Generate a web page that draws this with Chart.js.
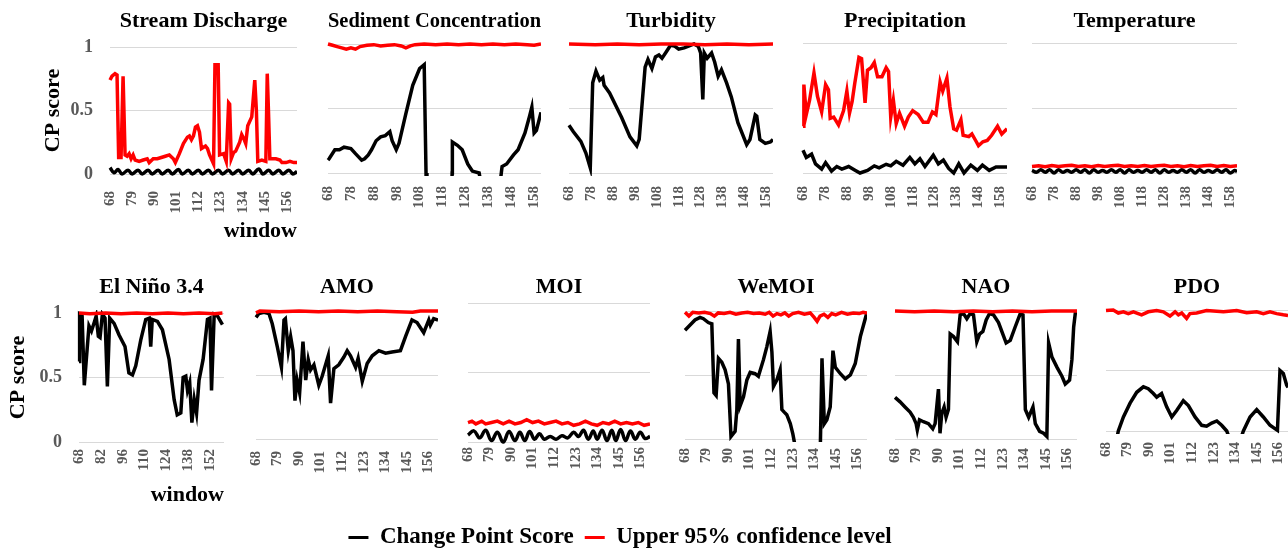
<!DOCTYPE html>
<html><head><meta charset="utf-8">
<script src="https://cdn.jsdelivr.net/npm/chart.js@4.4.1/dist/chart.umd.min.js"></script>
<style>
html,body{margin:0;padding:0;background:#fff;width:1288px;height:549px;overflow:hidden;position:relative}
canvas{position:absolute}
</style></head><body>
<script>
// ---------- tick labels (window numbers) ----------
const ticks10 = [68,78,88,98,108,118,128,138,148,158];
const ticks11 = [68,79,90,101,112,123,134,145,156];
const ticks14 = [68,82,96,110,124,138,152];
const seriesNames = ['Change Point Score', 'Upper 95% confidence level'];
const panelTitles = ['Stream Discharge','Sediment Concentration','Turbidity','Precipitation','Temperature',
                     'El Niño 3.4','AMO','MOI','WeMOI','NAO','PDO'];

// ---------- data: [window, CP score] ----------
const sdScore = [[68,0.05],[70,0.01],[72,0.035],[74,0.0],[77,0.03],[79,0.0],[82,0.03],[84,0.0],[87,0.03],[89,0.0],[92,0.03],[94,0.0],[97,0.03],[99,0.0],[102,0.035],[104,0.0],[107,0.03],[109,0.0],[112,0.03],[114,0.0],[117,0.03],[119,0.0],[122,0.03],[124,0.0],[127,0.03],[129,0.0],[132,0.03],[134,0.0],[137,0.03],[139,0.0],[142,0.04],[144,0.0],[147,0.03],[149,0.0],[152,0.03],[154,0.0],[157,0.03],[159,0.0],[161,0.02]];
const sdUpper = [[68,0.74],[69,0.77],[70.5,0.79],[71.5,0.78],[72.3,0.13],[73.5,0.13],[74.5,0.77],[75.5,0.15],[76.5,0.14],[77.5,0.16],[78.5,0.12],[79.5,0.15],[80.5,0.11],[82.5,0.1],[84.5,0.11],[86.5,0.12],[87.5,0.09],[89.5,0.12],[91.5,0.12],[93.5,0.13],[95.5,0.14],[97.5,0.15],[99.5,0.12],[100.5,0.09],[102.5,0.16],[104.5,0.24],[106.5,0.29],[107.5,0.3],[108.5,0.27],[109.5,0.3],[110.5,0.37],[111.5,0.38],[112.5,0.33],[113.5,0.2],[115.5,0.22],[116.5,0.2],[117.5,0.15],[119.5,0.08],[120.2,0.86],[121.8,0.86],[122.5,0.15],[124.5,0.16],[125.8,0.1],[127,0.56],[127.5,0.55],[128.3,0.12],[129.5,0.17],[130.5,0.18],[132.5,0.25],[133.5,0.31],[134.5,0.28],[135.5,0.24],[136.5,0.38],[138.5,0.45],[140,0.74],[140.8,0.5],[141.5,0.1],[143.5,0.11],[145.5,0.1],[146.2,0.79],[146.8,0.5],[147.5,0.12],[150.5,0.12],[152.5,0.11],[153.5,0.09],[155.5,0.09],[157.5,0.1],[159.5,0.09],[161,0.09]];

const secScore = [[68,0.1],[68.5,0.11],[71,0.18],[73,0.18],[75,0.2],[78,0.19],[80,0.15],[82.7,0.1],[84,0.11],[85.6,0.14],[87,0.18],[89,0.25],[91,0.28],[93,0.29],[95,0.32],[96,0.25],[97.8,0.18],[99,0.23],[102,0.46],[105,0.68],[108,0.81],[110,0.84],[110.8,0.0],[111.2,-0.3],[121.8,-0.3],[122.2,0.0],[122.3,0.24],[124.5,0.215],[126.6,0.18],[129,0.07],[131,0.015],[134,0.0],[135,-0.1],[143,-0.1],[144,0.05],[146,0.07],[149,0.14],[151,0.18],[154,0.31],[156,0.44],[157,0.51],[158,0.31],[159,0.33],[161,0.47]];
const secUpper = [[68,1.0],[70,0.99],[72,0.98],[74,0.97],[76,0.96],[78,0.97],[80,0.96],[82,0.98],[85,0.99],[88,0.995],[91,0.985],[94,0.99],[97,0.995],[100,0.985],[102,0.97],[104,0.985],[106,0.995],[110,1.0],[115,0.995],[120,1.0],[125,0.995],[130,1.0],[135,0.995],[140,1.0],[145,0.995],[150,1.0],[155,0.995],[158,0.99],[161,1.0]];

const turbScore = [[68,0.37],[70,0.32],[73.4,0.245],[75.7,0.155],[77.7,0.04],[78.8,0.7],[80.3,0.79],[82,0.72],[83.4,0.74],[84,0.68],[86.5,0.62],[92,0.43],[95.8,0.28],[98.9,0.21],[100,0.26],[102.7,0.82],[104,0.88],[105.8,0.81],[107.4,0.9],[109,0.915],[110.4,0.89],[112,0.93],[114.3,0.99],[116,0.985],[118,0.96],[120.5,0.97],[122.8,0.985],[125,1.0],[127,0.98],[128,0.93],[129,0.57],[129.7,0.93],[131,0.89],[133,0.93],[134.4,0.86],[136,0.75],[137.5,0.8],[139.8,0.7],[142,0.59],[145,0.39],[149,0.22],[150.5,0.26],[152.9,0.45],[153.6,0.44],[155,0.26],[157.5,0.23],[159.8,0.24],[161,0.26]];
const turbUpper = [[68,1.0],[80,0.995],[90,1.0],[100,0.995],[110,1.0],[120,1.0],[130,0.995],[140,1.0],[150,0.995],[161,1.0]];

const precScore = [[68,0.175],[69.5,0.12],[71.9,0.145],[73.7,0.07],[76.5,0.03],[78.3,0.08],[81,0.015],[83.4,0.05],[85.7,0.03],[88.8,0.05],[91.9,0.02],[94,0.0],[97.4,0.02],[100.5,0.055],[102.7,0.04],[105.9,0.067],[108,0.055],[110.5,0.09],[113.6,0.06],[116.7,0.12],[119,0.07],[121.3,0.11],[123.6,0.05],[127.4,0.137],[129.7,0.07],[132,0.1],[134.4,0.035],[136.7,0.0],[139,0.07],[141.4,0.0],[144.5,0.06],[147.5,0.02],[149.8,0.06],[152.9,0.02],[156,0.046],[161,0.046]];
const precUpper = [[68,0.36],[68.4,0.68],[69.5,0.45],[71,0.56],[73,0.77],[74.6,0.59],[76.5,0.47],[78.3,0.68],[79.6,0.64],[80.4,0.42],[82,0.43],[84.2,0.37],[86.5,0.48],[88,0.63],[89.2,0.46],[90.4,0.55],[91.6,0.69],[93.5,0.89],[94.7,0.88],[96.3,0.54],[97.4,0.79],[99,0.81],[100.5,0.85],[102,0.74],[104,0.74],[105.9,0.81],[107,0.78],[108,0.43],[109.2,0.56],[110.5,0.38],[112,0.46],[114.3,0.36],[116,0.43],[118,0.48],[120.5,0.45],[122.8,0.39],[125,0.39],[127,0.47],[128.6,0.45],[130.5,0.7],[131.7,0.63],[133.6,0.73],[135,0.51],[136.7,0.34],[138,0.33],[140,0.41],[141,0.29],[143.6,0.28],[145,0.3],[146.7,0.25],[148,0.21],[150,0.24],[152,0.25],[154,0.29],[156.7,0.36],[158.6,0.3],[161,0.34]];

const tempScore = [[68,0.02],[70,0.005],[72,0.025],[74,0.005],[76,0.025],[78,0.0],[80,0.025],[82,0.005],[84,0.02],[86,0.005],[88,0.025],[90,0.005],[92,0.025],[94,0.0],[96,0.025],[98,0.005],[100,0.02],[102,0.005],[104,0.025],[106,0.005],[108,0.025],[110,0.0],[112,0.025],[114,0.005],[116,0.02],[118,0.005],[120,0.025],[122,0.005],[124,0.025],[126,0.0],[128,0.025],[130,0.005],[132,0.02],[134,0.005],[136,0.025],[138,0.005],[140,0.025],[142,0.0],[144,0.025],[146,0.005],[148,0.02],[150,0.005],[152,0.025],[154,0.005],[156,0.025],[158,0.0],[160,0.02],[161,0.01]];
const tempUpper = [[68,0.05],[71,0.055],[74,0.048],[77,0.058],[80,0.05],[83,0.055],[86,0.06],[89,0.05],[92,0.055],[95,0.048],[98,0.057],[101,0.05],[104,0.055],[107,0.06],[110,0.05],[113,0.055],[116,0.05],[119,0.058],[122,0.05],[125,0.055],[128,0.06],[131,0.05],[134,0.055],[137,0.048],[140,0.058],[143,0.05],[146,0.055],[149,0.06],[152,0.05],[155,0.057],[158,0.05],[161,0.055]];

const ninoScore = [[68,0.625],[68.4,0.99],[70,0.975],[71.4,0.44],[72.7,0.64],[74.4,0.9],[76,0.86],[77.6,0.92],[79,0.975],[80.4,0.82],[81.5,0.81],[83,0.99],[84.7,0.96],[86.2,0.43],[87.7,0.96],[90.5,0.92],[93.7,0.83],[97.5,0.74],[100,0.535],[102.3,0.52],[104.4,0.59],[107.6,0.79],[110.8,0.95],[113,0.96],[114,0.74],[115,0.95],[118.3,0.935],[121.5,0.87],[125.8,0.64],[129,0.33],[131,0.21],[133.3,0.225],[134.8,0.5],[136.5,0.51],[137.6,0.4],[139,0.46],[140.4,0.15],[141.9,0.33],[143.4,0.225],[145,0.48],[147.6,0.64],[150.4,0.95],[152,0.96],[153,0.4],[154.7,0.99],[156.9,0.975],[160,0.91]];
const ninoUpper = [[68,1.0],[75,0.995],[85,1.0],[95,0.995],[105,1.0],[115,0.995],[125,1.0],[135,0.995],[145,1.0],[155,0.995],[160,1.0]];

const amoScore = [[68,0.95],[69.5,0.98],[72,0.99],[74.6,0.98],[76.3,0.9],[78.9,0.72],[81,0.56],[82.3,0.93],[83,0.94],[84.5,0.69],[85.7,0.8],[86.9,0.69],[87.9,0.3],[89,0.46],[90.3,0.36],[92,0.76],[93.4,0.46],[94.7,0.62],[95.9,0.54],[97.6,0.58],[100.1,0.42],[101.8,0.49],[104.9,0.65],[106.1,0.28],[107.8,0.55],[110.3,0.58],[112.9,0.64],[114.6,0.69],[116.3,0.65],[118.9,0.56],[120.2,0.63],[122.3,0.45],[124.8,0.59],[127.4,0.65],[130.8,0.69],[134.2,0.67],[137.5,0.68],[141.8,0.69],[144.4,0.8],[147.7,0.93],[150.3,0.91],[153.7,0.83],[156.3,0.93],[157.1,0.89],[158.8,0.94],[161,0.93]];
const amoUpper = [[68,0.985],[70,1.0],[80,0.995],[90,1.0],[100,0.995],[110,1.0],[120,0.995],[130,1.0],[140,0.995],[148,0.99],[152,1.0],[161,1.0]];

const moiScore = [[68,0.05],[71,0.08],[74,0.03],[77,0.085],[80,0.01],[83,0.07],[86,0.0],[89,0.075],[92,0.01],[94.5,0.07],[97,0.01],[99.5,0.075],[102,0.02],[104.5,0.06],[107,0.02],[110,0.04],[113,0.02],[116,0.045],[119,0.03],[122,0.07],[124.5,0.04],[127,0.085],[129.5,0.02],[132,0.08],[134,0.02],[136.5,0.085],[139,0.01],[141.5,0.085],[143.5,0.01],[146,0.09],[148.5,0.01],[151,0.08],[153.5,0.02],[156,0.07],[158.5,0.025],[161,0.04]];
const moiUpper = [[68,0.14],[70,0.15],[72,0.13],[75,0.15],[77,0.13],[80,0.14],[83,0.15],[86,0.13],[89,0.15],[92,0.13],[95,0.14],[98,0.16],[101,0.14],[104,0.15],[107,0.13],[110,0.14],[113,0.15],[116,0.13],[119,0.14],[122,0.12],[125,0.13],[128,0.15],[131,0.13],[134,0.12],[137,0.14],[140,0.13],[143,0.15],[146,0.13],[149,0.14],[152,0.13],[155,0.14],[158,0.12],[161,0.13]];

const wemoiScore = [[68,0.85],[70.6,0.89],[73.1,0.93],[75.7,0.95],[77.4,0.94],[79.9,0.91],[81.7,0.9],[82.8,0.36],[83.9,0.34],[85.1,0.63],[86.8,0.6],[88.5,0.54],[90.2,0.43],[91.5,0.02],[93.6,0.06],[94.5,0.23],[95.3,0.78],[96.2,0.26],[97.9,0.33],[99.6,0.46],[101.3,0.52],[103.8,0.51],[105.5,0.49],[108.1,0.62],[109.8,0.72],[111.5,0.84],[112.4,0.68],[113.2,0.41],[114.9,0.46],[116.6,0.54],[117.5,0.23],[118.7,0.21],[120,0.19],[121.8,0.12],[123.1,0.04],[124.8,-0.1],[137.1,-0.1],[138,0.63],[139.2,0.12],[140.5,0.15],[142.2,0.25],[143.6,0.69],[144.8,0.56],[147.4,0.51],[149.9,0.47],[152.5,0.5],[155,0.59],[157.6,0.8],[161,0.99]];
const wemoiUpper = [[68,0.99],[70,0.96],[72,0.99],[75,0.985],[78,0.99],[81,0.98],[83,0.96],[85,0.985],[88,0.98],[91,0.99],[94,0.975],[97,0.985],[100,0.99],[103,0.98],[106,0.985],[109,0.975],[111,0.99],[113,0.96],[115,0.98],[117,0.97],[119,0.985],[121,0.96],[123,0.98],[126,0.99],[129,0.975],[132,0.985],[134,0.95],[135.5,0.92],[137,0.96],[139,0.975],[141,0.95],[143,0.98],[145,0.97],[148,0.99],[151,0.975],[154,0.985],[157,0.98],[159,0.99],[161,0.985]];

const naoScore = [[68,0.325],[70.6,0.29],[73.1,0.25],[75.7,0.21],[77.4,0.17],[78.8,0.12],[79.4,0.07],[80.5,0.15],[82.5,0.135],[85.1,0.12],[87.3,0.08],[88.5,0.12],[90.2,0.39],[91,0.045],[91.9,0.2],[93.1,0.25],[94.1,0.17],[95.3,0.23],[96.2,0.82],[97.9,0.8],[99.9,0.76],[101.3,0.97],[103,0.98],[104.7,0.94],[106.4,0.98],[108.1,0.97],[109.8,0.76],[111.2,0.82],[112.9,0.84],[114.6,0.93],[116.3,0.98],[118.3,0.97],[120.9,0.91],[123.1,0.82],[124.8,0.75],[126.9,0.77],[129.4,0.875],[132,0.98],[133.4,0.97],[134.6,0.23],[136.3,0.17],[138.5,0.25],[139.7,0.12],[141.9,0.06],[143.9,0.045],[145.6,0.02],[146.5,0.75],[148.2,0.64],[150.8,0.56],[153.3,0.49],[155,0.43],[157.2,0.46],[158.4,0.62],[159.3,0.875],[160.2,0.99],[161,1.0]];
const naoUpper = [[68,1.0],[78,0.995],[88,1.0],[98,0.995],[108,1.0],[118,0.995],[128,1.0],[138,0.995],[148,1.0],[161,1.0]];

const pdoScore = [[68,-0.2],[73,-0.1],[74.3,0.0],[76.9,0.116],[80.3,0.23],[83.7,0.32],[87.1,0.365],[89.6,0.35],[92.2,0.31],[93.9,0.28],[96.4,0.31],[99,0.2],[101.6,0.116],[104.1,0.17],[107.5,0.25],[110.1,0.21],[113.5,0.116],[116.9,0.047],[119.4,0.04],[122,0.066],[124.6,0.083],[127.1,0.047],[129.7,0.0],[131.5,-0.08],[136.5,-0.08],[138.2,0.0],[141.6,0.116],[145,0.177],[148.4,0.116],[151.8,0.047],[155.6,0.005],[156.9,0.5],[158.6,0.475],[160.3,0.38],[161,0.36]];
const pdoUpper = [[68,0.995],[71.7,1.0],[74.3,0.975],[76.9,0.985],[79.4,0.97],[82,0.985],[86.2,0.96],[89.6,0.985],[93.9,0.995],[97.3,0.985],[100.7,0.95],[103.3,0.985],[105,0.96],[106.7,0.975],[109.2,0.93],[110.9,0.97],[114.3,0.975],[119.4,0.995],[128,0.985],[134.8,0.995],[139.9,0.978],[145,0.985],[148.4,0.97],[151.8,0.985],[155.2,0.97],[158.6,0.96],[161,0.955]];

// ---------- layout (pixels) ----------
const geom = [
  {row:0, first:true,  pl:110, pr:297, pt:47, pb:174, xGap:17},
  {row:0, first:false, pl:328, pr:541, pt:44, pb:173, xGap:13},
  {row:0, first:false, pl:569, pr:773, pt:44, pb:173, xGap:13},
  {row:0, first:false, pl:803, pr:1007, pt:43, pb:173, xGap:13},
  {row:0, first:false, pl:1032, pr:1237, pt:43, pb:173, xGap:13},
  {row:1, first:true,  pl:79, pr:224, pt:313, pb:442, xGap:7},
  {row:1, first:false, pl:256, pr:438, pt:311, pb:439, xGap:12},
  {row:1, first:false, pl:468, pr:650, pt:303, pb:442, xGap:5},
  {row:1, first:false, pl:685, pr:867, pt:311, pb:439, xGap:9},
  {row:1, first:false, pl:895, pr:1077, pt:311, pb:439, xGap:9},
  {row:1, first:false, pl:1106, pr:1288, pt:310, pb:431, xGap:11}
];
const panelData = [
  [sdScore, sdUpper, ticks11, true],
  [secScore, secUpper, ticks10, false],
  [turbScore, turbUpper, ticks10, false],
  [precScore, precUpper, ticks10, false],
  [tempScore, tempUpper, ticks10, true],
  [ninoScore, ninoUpper, ticks14, false],
  [amoScore, amoUpper, ticks11, false],
  [moiScore, moiUpper, ticks11, true],
  [wemoiScore, wemoiUpper, ticks11, false],
  [naoScore, naoUpper, ticks11, false],
  [pdoScore, pdoUpper, ticks11, false]
];

const SERIF = "'Liberation Serif', 'Times New Roman', serif";
const GRAY = '#595959';
const RED = '#ff0000';
const TF = 22;               // title font size
const TLH = TF * 1.2;        // title line height
const toXY = arr => arr.map(p => ({x: p[0], y: p[1]}));
const CLIP = {left: 2, right: 2, top: 3, bottom: 3};

function makePanel(i) {
  const g = geom[i];
  const [score, upper, ticks, smooth] = panelData[i];
  const rowTop = g.row === 0 ? 0 : 262;
  const ch = g.row === 0 ? 250 : 287;
  const cl = g.first ? 0 : g.pl - 14;
  const cw = g.pr - cl;
  const titleY = g.row === 0 ? 21 : 287;
  const padTop = titleY - rowTop - TLH / 2;
  const padBottom = g.pt - rowTop - padTop - TLH;
  const yW = g.pl - cl;
  const xH = ch - (g.pb - rowTop);
  const cv = document.createElement('canvas');
  cv.width = cw; cv.height = ch;
  cv.style.left = cl + 'px'; cv.style.top = rowTop + 'px';
  cv.style.width = cw + 'px'; cv.style.height = ch + 'px';
  document.body.appendChild(cv);
  new Chart(cv, {
    type: 'line',
    data: { datasets: [
      {label: seriesNames[1], data: toXY(upper), borderColor: RED, backgroundColor: RED, borderWidth: 3.5,
       pointRadius: 0, tension: 0, fill: false, clip: CLIP},
      {label: seriesNames[0], data: toXY(score), borderColor: '#000', backgroundColor: '#000', borderWidth: 3.5,
       pointRadius: 0, tension: smooth ? 0.4 : 0, fill: false, clip: CLIP}
    ]},
    options: {
      responsive: false, animation: false, devicePixelRatio: 1,
      layout: {padding: 0},
      plugins: {
        legend: {display: false}, tooltip: {enabled: false},
        title: {display: true, text: panelTitles[i], fullSize: false, color: '#000',
                font: {family: SERIF, size: TF, weight: 'bold', lineHeight: 1.2},
                padding: {top: padTop, bottom: padBottom}}
      },
      scales: {
        x: {type: 'linear', min: 68, max: 161,
            grid: {display: false, drawTicks: false}, border: {display: false},
            afterBuildTicks: s => { s.ticks = ticks.map(v => ({value: v})); },
            afterFit: s => { s.height = xH; s.paddingLeft = 0; s.paddingRight = 0; },
            ticks: {autoSkip: false, minRotation: 90, maxRotation: 90, padding: g.xGap, color: GRAY,
                    font: {family: SERIF, size: 15, weight: 'bold'}},
            title: {display: g.first, text: 'window', align: 'end', color: '#000',
                    font: {family: SERIF, size: TF, weight: 'bold', lineHeight: 1.2},
                    padding: {top: 0, bottom: g.row === 0 ? 5.8 : 40.8}}
        },
        y: {min: 0, max: 1,
            grid: {color: '#d9d9d9', lineWidth: 1, drawTicks: false}, border: {display: false},
            afterFit: s => { s.width = yW; s.paddingTop = 0; s.paddingBottom = 0; },
            ticks: {display: g.first, stepSize: 0.5, padding: 17, color: GRAY,
                    callback: v => String(v),
                    font: {family: SERIF, size: 18, weight: 'bold'}},
            title: {display: g.first, text: 'CP score', color: '#000',
                    font: {family: SERIF, size: TF, weight: 'bold', lineHeight: 1.2},
                    padding: {top: g.row === 0 ? 39.8 : 4.8, bottom: 0}}
        }
      }
    }
  });
}
for (let i = 0; i < geom.length; i++) makePanel(i);

// ---------- shared legend ----------
(function () {
  const cv = document.createElement('canvas');
  cv.width = 1240; cv.height = 80;
  cv.style.left = '0px'; cv.style.top = '515px';
  cv.style.width = '1240px'; cv.style.height = '80px';
  document.body.appendChild(cv);
  new Chart(cv, {
    type: 'line',
    data: { datasets: [
      {label: seriesNames[0], data: [], borderColor: '#000', backgroundColor: '#000', borderWidth: 0},
      {label: seriesNames[1], data: [], borderColor: RED, backgroundColor: RED, borderWidth: 0}
    ]},
    options: {
      responsive: false, animation: false, devicePixelRatio: 1,
      layout: {padding: 0},
      scales: {x: {display: false}, y: {display: false}},
      plugins: {
        tooltip: {enabled: false},
        legend: {display: true, position: 'top',
          labels: {boxWidth: 20, boxHeight: 3, padding: 11, color: '#000',
                   font: {family: SERIF, size: 23, weight: 'bold'}}}
      }
    }
  });
})();
</script>
</body></html>
